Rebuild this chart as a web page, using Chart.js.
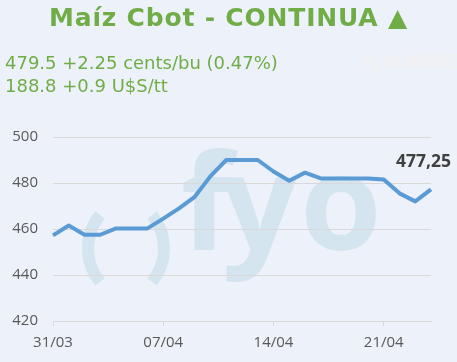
<!DOCTYPE html>
<html lang="es">
<head>
<meta charset="UTF-8">
<title>Maíz Cbot - CONTINUA</title>
<script src="https://cdn.jsdelivr.net/npm/chart.js@4.4.1/dist/chart.umd.min.js"></script>
<style>
    body {
        margin: 0;
        padding: 0;
        background-color: #edf1f9;
        font-family: "DejaVu Sans", Verdana, sans-serif;
    }
    .wrap {
        position: relative;
        width: 457px;
        height: 362px;
        overflow: hidden;
    }
    .title {
        position: absolute;
        top: 3px;
        left: 0;
        width: 457px;
        text-align: center;
        color: #70ad47;
        font-weight: bold;
        font-size: 25px;
        letter-spacing: 0.8px;
        white-space: nowrap;
    }
    .quote {
        position: absolute;
        left: 5px;
        color: #70ad47;
        font-size: 18px;
        white-space: nowrap;
    }
    #q1 { top: 52px; }
    #q2 { top: 75px; }
    .nombre {
        position: absolute;
        top: 52px;
        left: 362px;
        font-family: "Liberation Sans Narrow", "Arial Narrow", sans-serif;
        font-size: 18px;
        color: #f3f1ee;
    }
    #chart {
        position: absolute;
        top: 0;
        left: 0;
    }
</style>
</head>
<body>
<div class="wrap">
    <canvas id="chart" width="457" height="362"></canvas>
    <div class="title">Maíz Cbot - CONTINUA ▲</div>
    <div class="quote" id="q1">479.5 +2.25 cents/bu (0.47%)</div>
    <div class="quote" id="q2">188.8 +0.9 U$S/tt</div>
    <div class="nombre">#¿NOMBRE?</div>
</div>

<script>
    // Daily closes, 31/03 to 24/04
    const dates = ['31/03', '01/04', '02/04', '03/04', '04/04', '05/04', '06/04',
                   '07/04', '08/04', '09/04', '10/04', '11/04', '12/04', '13/04',
                   '14/04', '15/04', '16/04', '17/04', '18/04', '19/04', '20/04',
                   '21/04', '22/04', '23/04', '24/04'];
    const prices = [457.25, 461.5, 457.5, 457.5, 460.25, 460.25, 460.25,
                    464.5, 469, 474, 483, 490, 490, 490,
                    485, 481, 484.5, 482, 482, 482, 482,
                    481.5, 475.5, 472, 477.25];
    const yMin = 420;
    const yMax = 500;
    const yStep = 20;

    // faint "( )fyo" logo behind the plot
    const watermark = {
        id: 'watermark',
        beforeDraw(chart) {
            const c = chart.ctx;
            c.save();
            c.fillStyle = '#d5e5ef';
            c.strokeStyle = '#d5e5ef';
            c.font = 'bold 132px "Open Sans"';
            c.textBaseline = 'alphabetic';
            c.textAlign = 'left';
            c.fillText('f', 181, 250);
            c.fillText('y', 222, 250);
            c.fillText('o', 300, 250);

            const r = 52.8, a = Math.asin(33.5 / r);
            c.lineWidth = 12;
            c.beginPath();
            c.arc(88 + r, 248.5, r, Math.PI - a, Math.PI + a);
            c.stroke();
            c.beginPath();
            c.arc(164 - r, 248.5, r, -a, a);
            c.stroke();
            c.restore();
        }
    };

    // last value shown above the end of the line
    const lastLabel = {
        id: 'lastLabel',
        afterDatasetsDraw(chart) {
            const meta = chart.getDatasetMeta(0);
            const pt = meta.data[meta.data.length - 1];
            const v = prices[prices.length - 1];
            const c = chart.ctx;
            c.save();
            c.font = 'bold 17.5px "Open Sans"';
            c.fillStyle = '#404040';
            c.textAlign = 'right';
            c.textBaseline = 'alphabetic';
            c.fillText(v.toFixed(2).replace('.', ','), chart.width - 6, pt.y - 22);
            c.restore();
        }
    };

    const ctx = document.getElementById('chart').getContext('2d');
    new Chart(ctx, {
        type: 'line',
        data: {
            labels: dates,
            datasets: [{
                data: prices,
                borderColor: '#5b9bd5',
                borderWidth: 4,
                pointRadius: 0,
                tension: 0,
                borderJoinStyle: 'round',
                fill: false
            }]
        },
        options: {
            responsive: false,
            animation: false,
            layout: { padding: { top: 137, right: 26, left: 0, bottom: 0 } },
            plugins: {
                legend: { display: false },
                tooltip: { enabled: false }
            },
            scales: {
                x: {
                    offset: false,
                    afterFit(scale) { scale.height = 41; },
                    border: { display: true, color: '#d9d9d9', width: 1 },
                    grid: {
                        drawOnChartArea: false,
                        drawTicks: true,
                        tickLength: 5,
                        color: '#d9d9d9'
                    },
                    ticks: {
                        autoSkip: false,
                        maxRotation: 0,
                        padding: 8,
                        color: '#595959',
                        font: { family: '"Open Sans"', size: 15 },
                        callback(val, i) { return i % 7 === 0 ? dates[i] : null; }
                    }
                },
                y: {
                    min: yMin,
                    max: yMax,
                    afterFit(scale) { scale.width = 53; },
                    border: { display: false },
                    grid: { color: '#d9d9d9', drawTicks: false },
                    ticks: {
                        stepSize: yStep,
                        padding: 15,
                        color: '#595959',
                        font: { family: '"Open Sans"', size: 15 }
                    }
                }
            }
        },
        plugins: [watermark, lastLabel]
    });
</script>
</body>
</html>
